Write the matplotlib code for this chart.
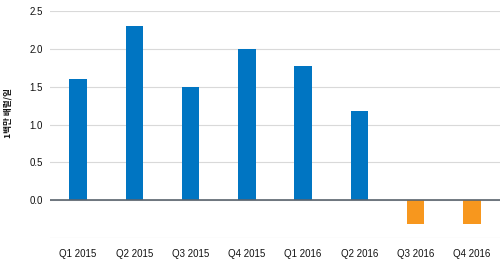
import matplotlib
matplotlib.use("Agg")
import matplotlib.pyplot as plt
import numpy as np

# quarterly values (million barrels/day)
quarters = ["Q1 2015", "Q2 2015", "Q3 2015", "Q4 2015",
            "Q1 2016", "Q2 2016", "Q3 2016", "Q4 2016"]
values = [1.6, 2.3, 1.5, 2.0, 1.78, 1.18, -0.31, -0.31]
y_ticks = [0.0, 0.5, 1.0, 1.5, 2.0, 2.5]
y_label = "1백만 배럴/일"

plt.rcParams['font.family'] = ['Liberation Sans', 'Noto Sans CJK KR', 'DejaVu Sans']

fig = plt.figure(figsize=(5.04, 2.65), dpi=100)
ax = fig.add_axes([0.099, 0.102, 0.893, 0.856])

x = np.arange(len(quarters))
colors = ['#0075c2' if v >= 0 else '#f7971e' for v in values]
ax.bar(x, values, width=0.31, color=colors, zorder=3)

ax.set_xlim(-0.5, len(quarters) - 0.5)
ax.set_ylim(-0.5, 2.5)
for yv in [-0.5] + y_ticks:
    ax.axhline(yv, color='#d9d9d9', lw=0.8, zorder=1)
ax.axhline(0, color='#5a646e', lw=1.2, zorder=4)

ax.set_yticks(y_ticks)
ax.set_yticklabels([f"{v:.1f}" for v in y_ticks])
ax.set_xticks(x)
ax.set_xticklabels(quarters)
ax.tick_params(axis='both', length=0, labelsize=7, colors='#111111')
ax.tick_params(axis='x', pad=8)
ax.tick_params(axis='y', pad=5)

ax.set_ylabel(y_label, fontsize=6.2, color='#111111', fontweight='bold',
              family=['Noto Sans CJK KR', 'DejaVu Sans'])
ax.yaxis.set_label_coords(-0.083, 0.55)

for s in ax.spines.values():
    s.set_visible(False)

fig.savefig("out.png", dpi=100)
